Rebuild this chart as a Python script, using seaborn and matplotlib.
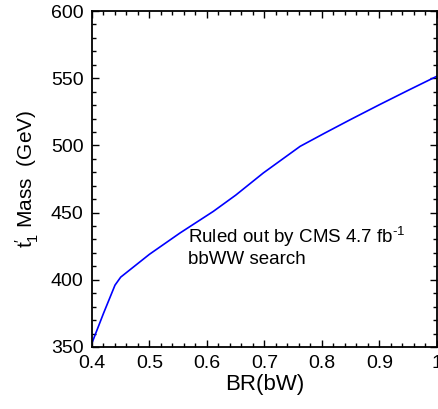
import matplotlib
matplotlib.use("Agg")
import matplotlib.pyplot as plt
import seaborn as sns
import pandas as pd
from matplotlib.ticker import MultipleLocator

## exclusion curve
br_bw = [0.40, 0.42, 0.44, 0.45, 0.50, 0.553, 0.611, 0.65, 0.698, 0.762, 0.805, 0.849, 0.90, 0.95, 1.00]
mass = [353, 375, 396, 402, 419, 434.8, 450.9, 463, 479.5, 499.3, 509.2, 519.1, 530.3, 541, 551.5]

df = pd.DataFrame({'br': br_bw, 'mass': mass})

sns.set_style('ticks')
plt.rcParams['font.family'] = ['Liberation Sans', 'DejaVu Sans']
plt.rcParams['mathtext.fontset'] = 'custom'
plt.rcParams['mathtext.rm'] = 'Liberation Sans'
plt.rcParams['mathtext.it'] = 'Liberation Sans:italic'
plt.rcParams['mathtext.default'] = 'regular'
plt.rcParams['axes.unicode_minus'] = False
for k in ['text.color', 'axes.labelcolor', 'xtick.color', 'ytick.color', 'axes.edgecolor']:
    plt.rcParams[k] = 'black'

fig = plt.figure(figsize=(4.38, 4.09), dpi=100)
ax = fig.add_axes([0.210, 0.1516, 0.7877, 0.8215])

sns.lineplot(data=df, x='br', y='mass', color='#0000ff', linewidth=1.2, ax=ax)

ax.set_xlim(0.4, 1.0)
ax.set_ylim(350, 600)
ax.xaxis.set_minor_locator(MultipleLocator(0.02))
ax.yaxis.set_major_locator(MultipleLocator(50))
ax.yaxis.set_minor_locator(MultipleLocator(10))
ax.set_xticks([0.4, 0.5, 0.6, 0.7, 0.8, 0.9, 1.0])
ax.set_xticklabels(['0.4', '0.5', '0.6', '0.7', '0.8', '0.9', '1'])

ax.tick_params(which='both', direction='in', top=True, right=True, width=1.0)
ax.tick_params(which='major', length=5, labelsize=14, pad=6)
ax.tick_params(which='minor', length=3)
for s in ax.spines.values():
    s.set_linewidth(1.3)

ax.set_xlabel('BR(bW)', fontsize=16, labelpad=1)
ax.set_ylabel(r"t$_1^{\prime}$ Mass  (GeV)", fontsize=15, labelpad=7)

ax.text(0.567, 427.7, r'Ruled out by CMS 4.7 fb$^{\text{-1}}$', fontsize=13.5, ha='left', va='baseline')
ax.text(0.567, 411.6, 'bbWW search', fontsize=13.5, ha='left', va='baseline')

plt.savefig('out.png', dpi=100)
